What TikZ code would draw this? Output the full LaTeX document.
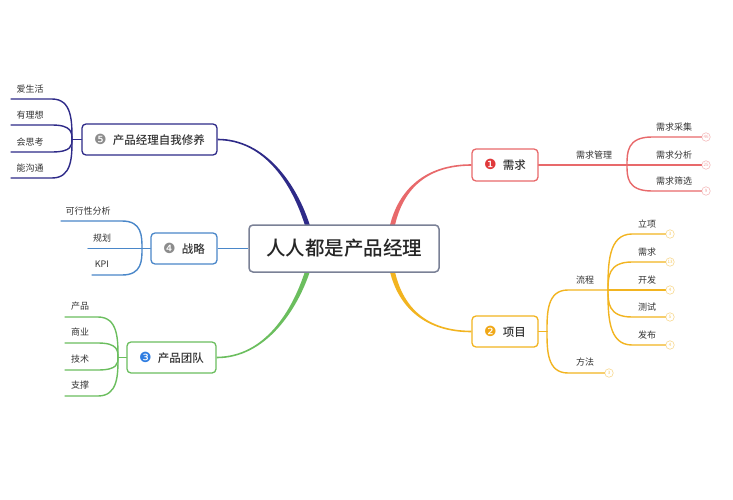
\documentclass[tikz,border=0pt]{standalone}
\usepackage{fontspec}
\setmainfont{Noto Sans CJK SC}
\newfontfamily\medfont{Noto Sans CJK SC Medium}
\newfontfamily\dejavu{DejaVu Sans}
\usetikzlibrary{calc}
\definecolor{purp}{HTML}{2E2A88}
\definecolor{redb}{HTML}{E8696B}
\definecolor{yelb}{HTML}{F2B420}
\definecolor{grnb}{HTML}{6BBE5E}
\definecolor{blub}{HTML}{4A87C9}
\definecolor{cbord}{HTML}{7A8196}
\definecolor{txt}{HTML}{333333}
\definecolor{bred}{HTML}{E0393B}
\definecolor{byel}{HTML}{F0A818}
\definecolor{bblu}{HTML}{2F7DE1}
\definecolor{bgry}{HTML}{8C8C8C}
\pgfdeclarelayer{background}
\pgfsetlayers{background,main}
\newcommand\mybadge[2]{{\dejavu\fontsize{14}{14}\selectfont\color{#1}#2}}
\begin{document}
\begin{tikzpicture}[x=1pt,y=-1pt,
 topic/.style={draw, rounded corners=4pt, line width=1.3pt, fill=white, minimum height=31pt, inner sep=0pt, font=\fontsize{11.5}{14}\selectfont\medfont, text=txt},
 leaf/.style={font=\fontsize{9}{11}\selectfont, text=txt, inner sep=0pt},
 link/.style={line width=1.4pt, line cap=round},
 endc/.style={circle, draw, fill=white, minimum size=8.5pt, inner sep=0pt, line width=0.6pt, font=\fontsize{4.5}{5}\selectfont}]
\useasboundingbox (0,0) rectangle (733,500);

% central and main topics
\node[draw=cbord, line width=1.5pt, rounded corners=4pt, fill=white, minimum width=190pt, minimum height=47pt, inner sep=0pt, font=\fontsize{19.5}{22}\selectfont\medfont, text=black!85] (c) at (344,248.5) {人人都是产品经理};
\node[topic, draw=purp, minimum width=135pt] (n5) at (149.5,139.5) {\mybadge{bgry}{❺}\hspace{6pt}产品经理自我修养};
\node[topic, draw=blub, minimum width=66pt] (n4) at (184,248.5) {\mybadge{bgry}{❹}\hspace{6pt}战略};
\node[topic, draw=grnb, minimum width=89pt] (n3) at (171.5,357.5) {\mybadge{bblu}{❸}\hspace{6pt}产品团队};
\node[topic, draw=redb, minimum width=66pt, minimum height=32pt] (n1) at (505,165) {\mybadge{bred}{❶}\hspace{6pt}需求};
\node[topic, draw=yelb, minimum width=66pt] (n2) at (505,331.5) {\mybadge{byel}{❷}\hspace{6pt}项目};

% ---------- topic 5 leaves
\coordinate (j5) at (72,139.5);
\foreach \i/\y/\t in {1/99/爱生活,2/125/有理想,3/152/会思考,4/178/能沟通}{
  \node[leaf] (t5\i) at (30,\y-10) {\t};
  \coordinate (a5\i) at (11,\y);
  \coordinate (b5\i) at (52,\y);
  \draw[link,purp] (a5\i) -- (b5\i) .. controls (j5 |- b5\i) and ($(j5)!0.45!(j5 |- b5\i)$) .. (j5);
}
\draw[link,purp] (j5) -- (n5.west);

% ---------- topic 4 leaves
\coordinate (j4) at (142,248.5);
\node[leaf] (t41) at (88,211) {可行性分析};
\node[leaf] (t42) at (102,238) {规划};
\node[leaf] (t43) at (102,264) {KPI};
\coordinate (a41) at (61,221); \coordinate (b41) at (122,221);
\coordinate (a42) at (88,248.5);
\coordinate (a43) at (92,275); \coordinate (b43) at (122,275);
\draw[link,blub] (a41) -- (b41) .. controls (j4 |- b41) and ($(j4)!0.45!(j4 |- b41)$) .. (j4);
\draw[link,blub] (a43) -- (b43) .. controls (j4 |- b43) and ($(j4)!0.45!(j4 |- b43)$) .. (j4);
\draw[link,blub] (a42) -- (j4) -- (n4.west);

% ---------- topic 3 leaves
\coordinate (j3) at (118,357.5);
\foreach \i/\y/\t in {1/317/产品,2/343/商业,3/370/技术,4/396/支撑}{
  \node[leaf] (t3\i) at (80,\y-10.5) {\t};
  \coordinate (a3\i) at (65,\y);
  \coordinate (b3\i) at (98,\y);
  \draw[link,grnb] (a3\i) -- (b3\i) .. controls (j3 |- b3\i) and ($(j3)!0.45!(j3 |- b3\i)$) .. (j3);
}
\draw[link,grnb] (j3) -- (n3.west);

% ---------- topic 1 leaves
\coordinate (j1) at (627,165);
\draw[link,redb] (n1.east) -- (j1);
\node[leaf] (t10) at (594,155) {需求管理};
\foreach \i/\y/\t/\n in {1/137/需求采集/46,2/165/需求分析/25,3/191/需求筛选/9}{
  \node[leaf] (t1\i) at (674,\y-10) {\t};
  \coordinate (b1\i) at (652,\y);
  \node[endc, draw=redb!45, text=redb!60] (e1\i) at (706,\y) {\n};
  \draw[link,redb] (j1) .. controls ($(j1)!0.45!(j1 |- b1\i)$) and (j1 |- b1\i) .. (b1\i) -- (e1\i);
}

% ---------- topic 2 leaves
\coordinate (j2) at (547,331.5);
\draw[link,yelb] (n2.east) -- (j2);
\coordinate (b21) at (568,290);
\coordinate (j2b) at (608,290);
\coordinate (b22) at (568,373);
\node[leaf] (t21) at (585,280) {流程};
\node[leaf] (t22) at (585,362) {方法};
\node[endc, draw=yelb!50, text=yelb!70] (e22) at (609,373) {3};
\draw[link,yelb] (j2) .. controls ($(j2)!0.45!(j2 |- b21)$) and (j2 |- b21) .. (b21) -- (j2b);
\draw[link,yelb] (j2) .. controls ($(j2)!0.45!(j2 |- b22)$) and (j2 |- b22) .. (b22) -- (e22);
\foreach \i/\y/\t/\n in {1/234/立项/3,2/262/需求/13,3/290/开发/4,4/317/测试/5,5/345/发布/4}{
  \node[leaf] (t2\i x) at (647,\y-9.5) {\t};
  \coordinate (c2\i) at (632,\y);
  \node[endc, draw=yelb!50, text=yelb!70] (f2\i) at (670,\y) {\n};
  \draw[link,yelb] (j2b) .. controls ($(j2b)!0.45!(j2b |- c2\i)$) and (j2b |- c2\i) .. (c2\i) -- (f2\i);
}

% ---------- main tapered branches
\begin{pgfonlayer}{background}
\fill[white] (0,0) rectangle (733,500);
% purple to topic 5
\fill[purp] ($(c.north)+(-38.5,3)$) .. controls (292.8,185) and (265,140.3) .. ($(n5.east)+(0,0.8)$)
  -- ($(n5.east)+(0,-0.8)$) .. controls (265,138.7) and (297.2,184) .. ($(c.north)+(-33.5,3)$) -- cycle;
% red to topic 1
\fill[redb] ($(c.north)+(45.5,3)$) .. controls (397.8,190) and (425,164.2) .. ($(n1.west)+(0,-0.8)$)
  -- ($(n1.west)+(0,0.8)$) .. controls (425,165.8) and (402.2,191) .. ($(c.north)+(50.5,3)$) -- cycle;
% yellow to topic 2
\fill[yelb] ($(c.south)+(45.5,-3)$) .. controls (397.8,307) and (425,332.3) .. ($(n2.west)+(0,0.8)$)
  -- ($(n2.west)+(0,-0.8)$) .. controls (425,330.7) and (402.2,306) .. ($(c.south)+(50.5,-3)$) -- cycle;
% green to topic 3
\fill[grnb] ($(c.south)+(-38.5,-3)$) .. controls (292.8,310) and (265,356.7) .. ($(n3.east)+(0,-0.8)$)
  -- ($(n3.east)+(0,0.8)$) .. controls (265,358.3) and (297.2,311) .. ($(c.south)+(-33.5,-3)$) -- cycle;
% blue to topic 4
\draw[blub, line width=1.8pt] (n4.east) -- (c.west);
\end{pgfonlayer}
\end{tikzpicture}
\end{document}
